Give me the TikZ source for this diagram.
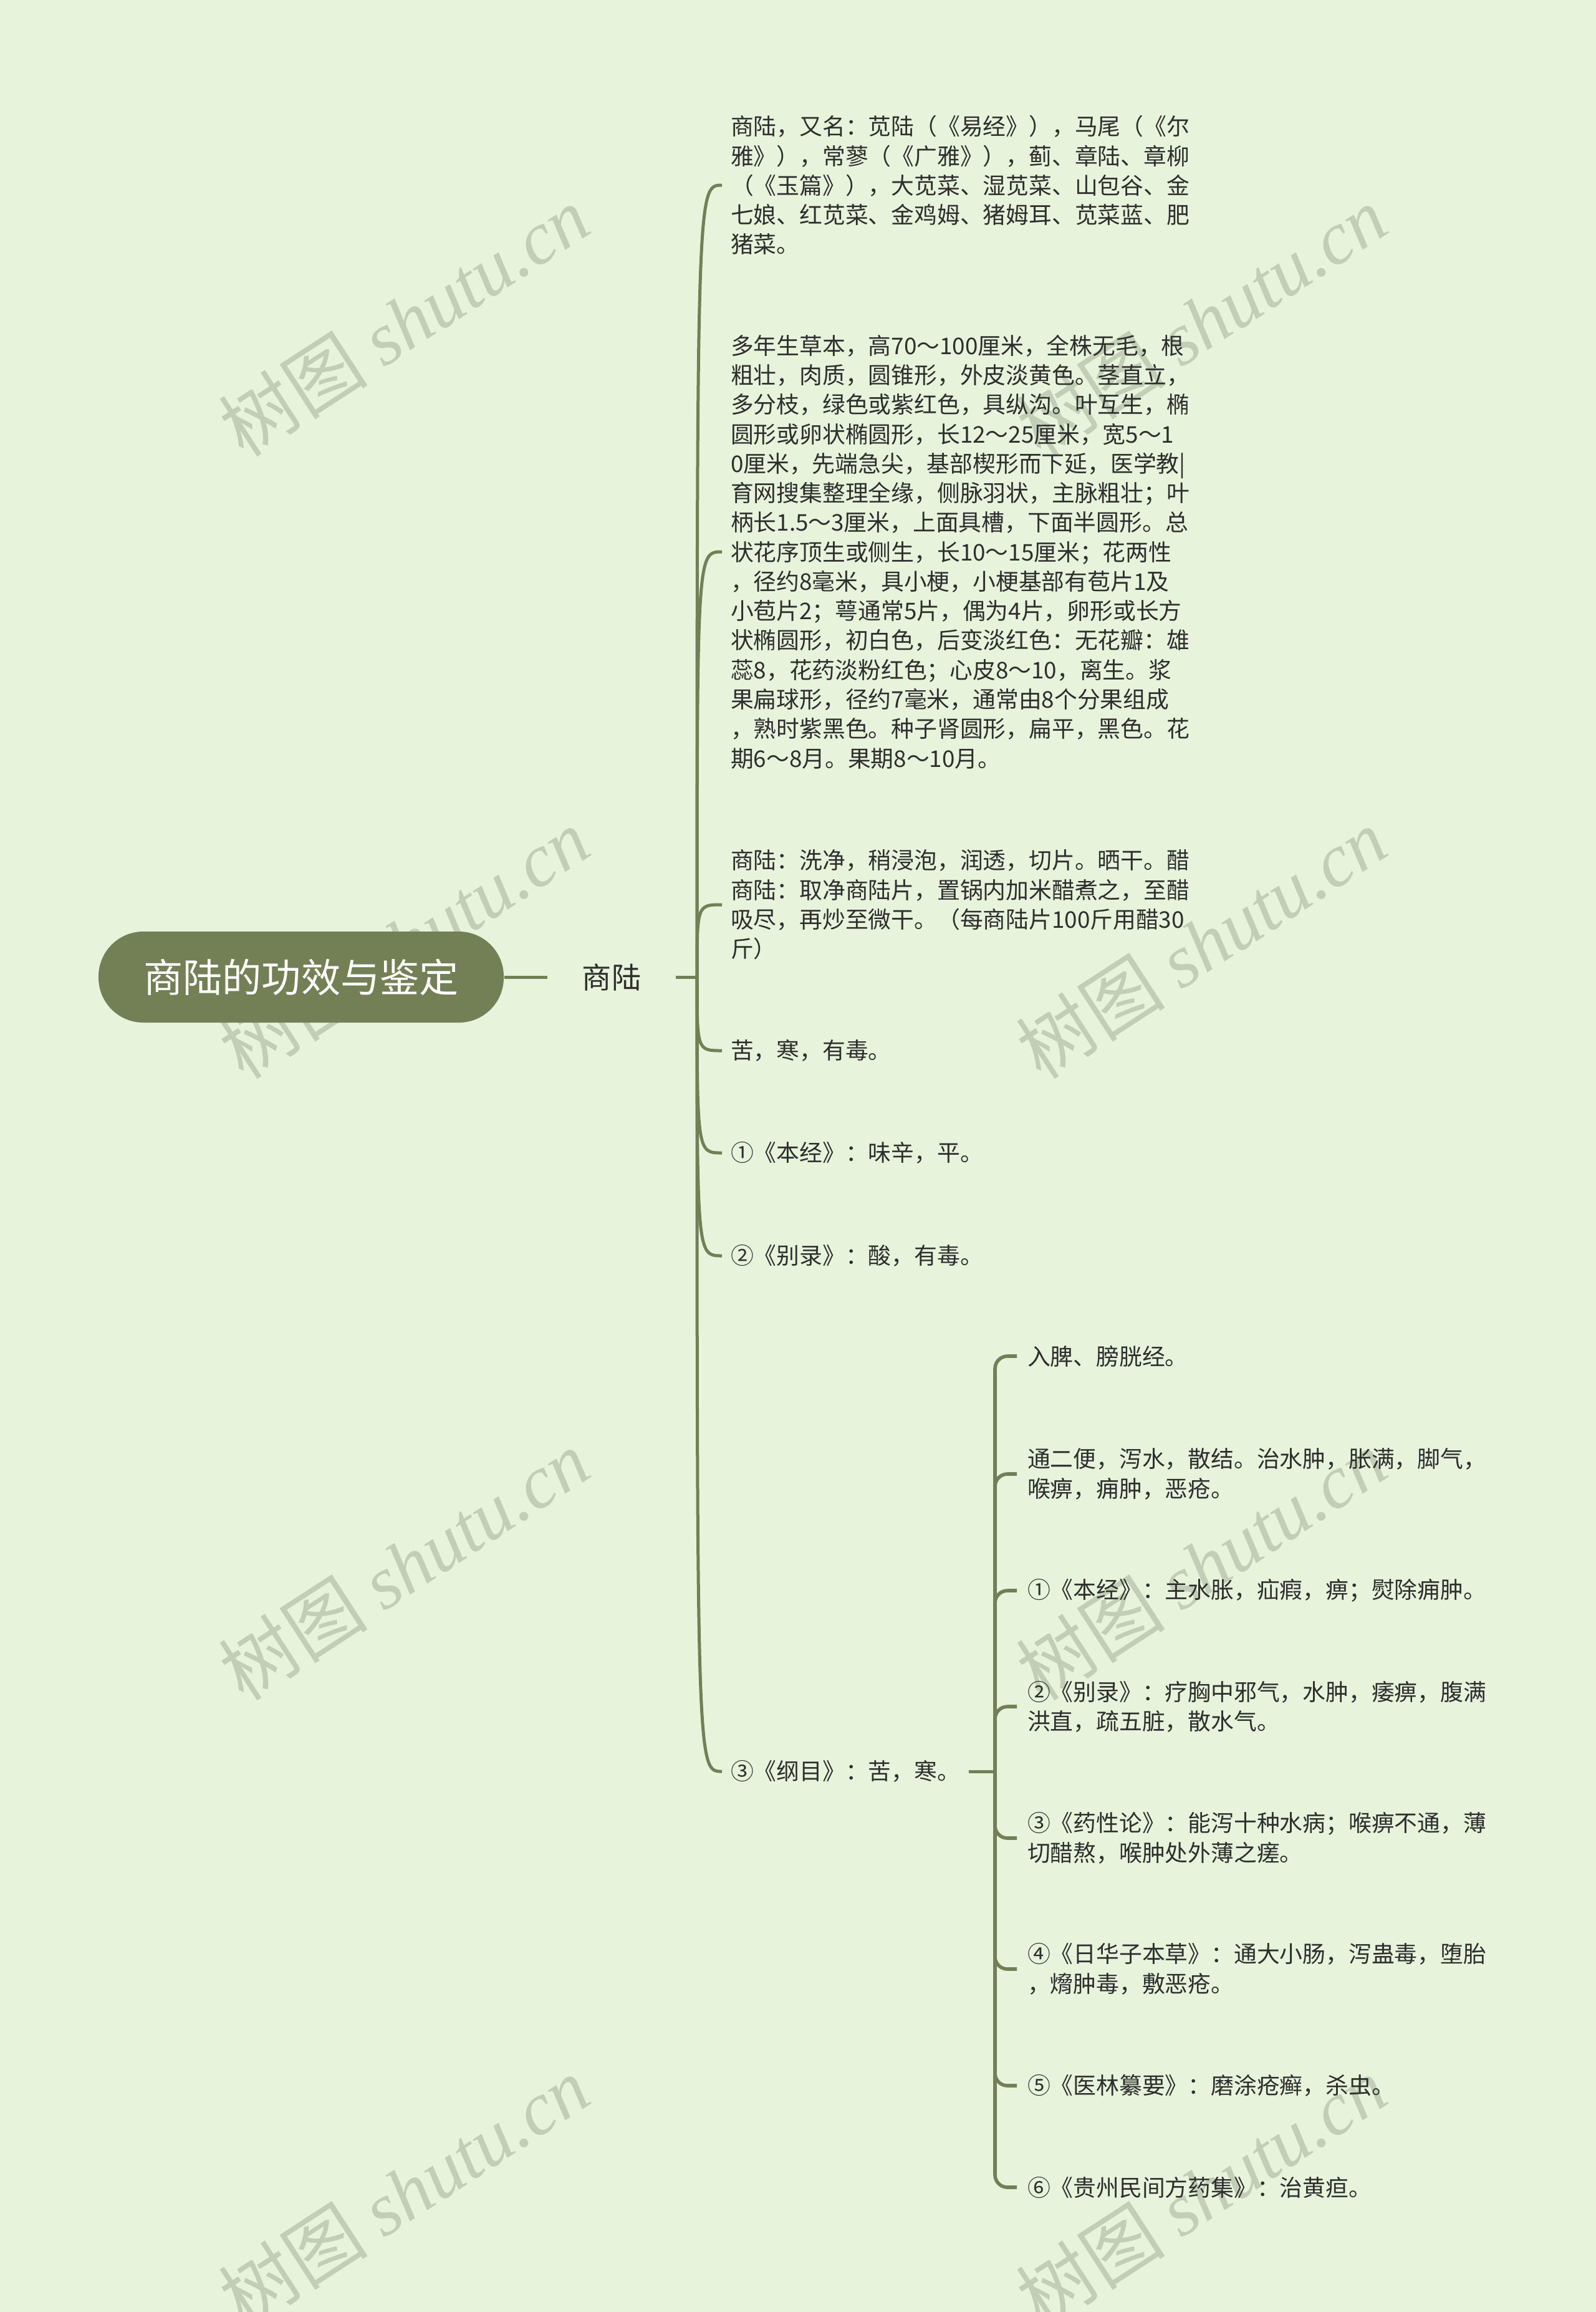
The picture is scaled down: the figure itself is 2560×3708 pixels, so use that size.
\documentclass[tikz,border=0pt]{standalone}
\usepackage{fontspec}
\setmainfont{Noto Sans CJK SC}
\newfontfamily\wmserif{Liberation Serif}
\definecolor{bgc}{HTML}{E7F3DB}
\definecolor{olive}{HTML}{737F55}
\definecolor{txt}{HTML}{2E2E2E}
\definecolor{wmc}{HTML}{C2CEB5}
\begin{document}
\begin{tikzpicture}[x=0.25pt,y=-0.25pt,
  rootbox/.style={fill=olive, text=white, rounded corners=18pt, minimum width=162.5pt, minimum height=36.5pt, inner sep=0pt, font=\fontsize{15.8pt}{18pt}\selectfont},
  midbox/.style={text=txt, inner xsep=13.7pt, inner ysep=0pt, font=\fontsize{11.8pt}{14pt}\selectfont},
  leaf/.style={anchor=west, inner sep=0pt, outer xsep=3.5pt, align=left, text=txt, font=\fontsize{9.2pt}{11.82pt}\selectfont},
  leafb/.style={leaf, outer xsep=4.25pt},
  conn/.style={draw=olive, line width=1.25pt},
  connb/.style={draw=olive, line width=1.4pt, rounded corners=5pt},
  wmark/.style={text=wmc, rotate=33, inner sep=0pt, font=\fontsize{30pt}{32pt}\selectfont}]
\fill[bgc] (0,0) rectangle (2560,3708);
\useasboundingbox (0,0) rectangle (2560,3708);
% watermarks
\foreach \wx/\wy/\wn in {648/515/w1,1927/515/w2,648/1513/w3,1927/1513/w4,648/2510/w5,1927/2510/w6,648/3515/w7,1927/3515/w8}{
  \node[wmark] (\wn) at (\wx,\wy) {树图 {\wmserif\itshape shutu.cn}};
}
% root
\node[rootbox] (root) at (483,1567) {商陆的功效与鉴定};
\node[midbox] (sl) at (981,1567) {商陆};
\coordinate (j1) at (1118,1567);
\draw[conn] (root.east) -- (sl.west);
\draw[conn] (sl.east) -- (j1);
% level 1 leaves
\node[leaf] (a1) at (1158,297) {商陆，又名：苋陆（《易经》），马尾（《尔\\雅》），常蓼（《广雅》），蓟、章陆、章柳\\（《玉篇》），大苋菜、湿苋菜、山包谷、金\\七娘、红苋菜、金鸡姆、猪姆耳、苋菜蓝、肥\\猪菜。};
\node[leaf] (a2) at (1158,885) {多年生草本，高70～100厘米，全株无毛，根\\粗壮，肉质，圆锥形，外皮淡黄色。茎直立，\\多分枝，绿色或紫红色，具纵沟。叶互生，椭\\圆形或卵状椭圆形，长12～25厘米，宽5～1\\0厘米，先端急尖，基部楔形而下延，医学教|\\育网搜集整理全缘，侧脉羽状，主脉粗壮；叶\\柄长1.5～3厘米，上面具槽，下面半圆形。总\\状花序顶生或侧生，长10～15厘米；花两性\\，径约8毫米，具小梗，小梗基部有苞片1及\\小苞片2；萼通常5片，偶为4片，卵形或长方\\状椭圆形，初白色，后变淡红色：无花瓣：雄\\蕊8，花药淡粉红色；心皮8～10，离生。浆\\果扁球形，径约7毫米，通常由8个分果组成\\，熟时紫黑色。种子肾圆形，扁平，黑色。花\\期6～8月。果期8～10月。};
\node[leaf] (a3) at (1158,1451) {商陆：洗净，稍浸泡，润透，切片。晒干。醋\\商陆：取净商陆片，置锅内加米醋煮之，至醋\\吸尽，再炒至微干。（每商陆片100斤用醋30\\斤）};
\node[leaf] (a4) at (1158,1685) {苦，寒，有毒。};
\node[leaf] (a5) at (1158,1849) {①《本经》：味辛，平。};
\node[leaf] (a6) at (1158,2014) {②《别录》：酸，有毒。};
\node[leaf] (a7) at (1158,2841) {③《纲目》：苦，寒。};
\foreach \n in {a1,a2,a3,a4,a5,a6,a7}{
  \draw[conn] (j1) .. controls (j1 |- \n.west) .. (\n.west);
}
% level 2
\coordinate (j2) at (1596,2841);
\draw[conn] (a7.east) -- (j2);
\node[leafb] (b1) at (1631,2175) {入脾、膀胱经。};
\node[leafb] (b2) at (1631,2364) {通二便，泻水，散结。治水肿，胀满，脚气，\\喉痹，痈肿，恶疮。};
\node[leafb] (b3) at (1631,2551) {①《本经》：主水胀，疝瘕，痹；熨除痈肿。};
\node[leafb] (b4) at (1631,2737) {②《别录》：疗胸中邪气，水肿，痿痹，腹满\\洪直，疏五脏，散水气。};
\node[leafb] (b5) at (1631,2948) {③《药性论》：能泻十种水病；喉痹不通，薄\\切醋熬，喉肿处外薄之瘥。};
\node[leafb] (b6) at (1631,3158) {④《日华子本草》：通大小肠，泻蛊毒，堕胎\\，熁肿毒，敷恶疮。};
\node[leafb] (b7) at (1631,3345) {⑤《医林纂要》：磨涂疮癣，杀虫。};
\node[leafb] (b8) at (1631,3508) {⑥《贵州民间方药集》：治黄疸。};
\foreach \n in {b1,b2,b3,b4,b5,b6,b7,b8}{
  \draw[connb] (j2) |- (\n.west);
}
\end{tikzpicture}
\end{document}
